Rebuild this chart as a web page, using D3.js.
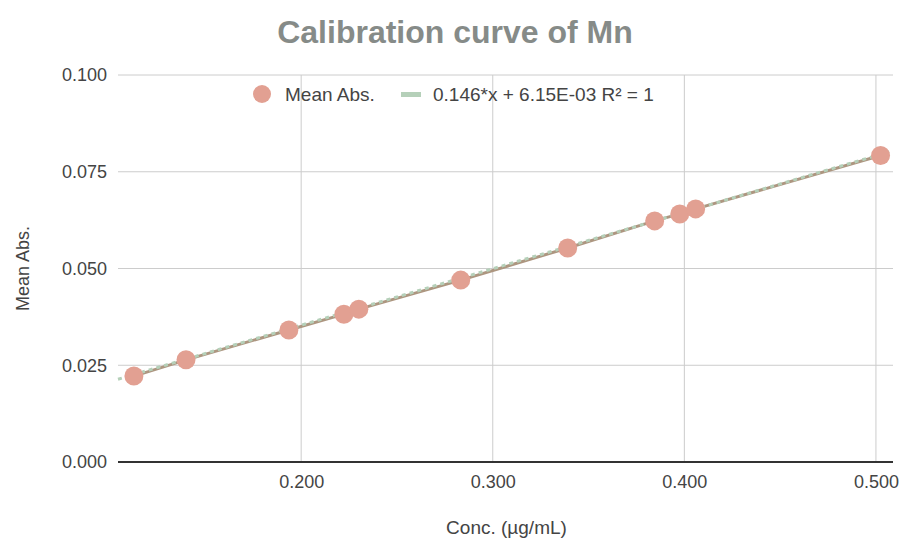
<!DOCTYPE html>
<html><head><meta charset="utf-8">
<script src="https://cdn.jsdelivr.net/npm/d3@7"></script>
<style>body{margin:0;background:#fff}svg{display:block;font-family:"Liberation Sans",Arial,sans-serif}</style>
</head><body><svg id="c" width="903" height="543"></svg>
<script>
const conc = [0.1127, 0.1399, 0.1936, 0.2223, 0.2301, 0.2833, 0.3391, 0.3845, 0.3976, 0.4059, 0.5024];
const meanAbs = [0.0222, 0.0264, 0.0341, 0.0382, 0.0395, 0.0470, 0.0553, 0.0623, 0.0641, 0.0654, 0.0792];
const xTicks = [0.2, 0.3, 0.4, 0.5];
const yTicks = [0, 0.025, 0.05, 0.075, 0.1];
const slope = 0.146, intercept = 6.15e-3;
const xDomain = [0.1044, 0.5089];

const svg = d3.select("#c");
const L = 118, R = 893, T = 75, B = 462;
const x = d3.scaleLinear().domain(xDomain).range([L, R]);
const y = d3.scaleLinear().domain([0, 0.1]).range([B, T]);

// grid
svg.append("g").selectAll("line").data(xTicks).join("line")
  .attr("x1", d => x(d)).attr("x2", d => x(d)).attr("y1", T).attr("y2", B)
  .attr("stroke", "#cccccc").attr("stroke-width", 1);
svg.append("g").selectAll("line").data(yTicks.filter(d => d > 0)).join("line")
  .attr("x1", L).attr("x2", R).attr("y1", d => y(d)).attr("y2", d => y(d))
  .attr("stroke", "#cccccc").attr("stroke-width", 1);

// axes (labels)
const yAxis = svg.append("g").attr("transform", `translate(${L},0)`)
  .call(d3.axisLeft(y).tickValues(yTicks).tickFormat(d3.format(".3f")).tickSize(0).tickPadding(11));
yAxis.select(".domain").remove();
yAxis.selectAll("text").attr("font-size", 18).attr("fill", "#444");
const xAxis = svg.append("g").attr("transform", `translate(0,${B})`)
  .call(d3.axisBottom(x).tickValues(xTicks).tickFormat(d3.format(".3f")).tickSize(0).tickPadding(13));
xAxis.select(".domain").remove();
xAxis.selectAll("text").attr("font-size", 18).attr("fill", "#444");

// baseline
svg.append("line").attr("x1", L).attr("x2", R).attr("y1", y(0)).attr("y2", y(0))
  .attr("stroke", "#333").attr("stroke-width", 2);

// data line
const pts = conc.map((c, i) => [c, meanAbs[i]]);
svg.append("path").datum(pts)
  .attr("d", d3.line().x(d => x(d[0])).y(d => y(d[1])))
  .attr("fill", "none").attr("stroke", "#ad9680").attr("stroke-width", 3);

// trendline
svg.append("path").datum(xDomain)
  .attr("d", d3.line().x(d => x(d)).y(d => y(slope * d + intercept)))
  .attr("fill", "none").attr("stroke", "#b5d0b9").attr("stroke-width", 3)
  .attr("stroke-dasharray", "4,4");

// points
svg.append("g").selectAll("circle").data(pts).join("circle")
  .attr("cx", d => x(d[0])).attr("cy", d => y(d[1])).attr("r", 9.5)
  .attr("fill", "#e2a092");

// title
svg.append("text").attr("x", 455).attr("y", 43).attr("text-anchor", "middle")
  .attr("font-size", 32).attr("font-weight", "bold").attr("fill", "#868b88")
  .text("Calibration curve of Mn");

// axis titles
svg.append("text").attr("x", (L + R) / 2 + 1).attr("y", 534).attr("text-anchor", "middle")
  .attr("font-size", 19).attr("fill", "#444").text("Conc. (µg/mL)");
svg.append("text").attr("transform", `translate(29,${(T + B) / 2}) rotate(-90)`)
  .attr("text-anchor", "middle").attr("font-size", 18).attr("fill", "#444").text("Mean Abs.");

// legend
svg.append("circle").attr("cx", 262).attr("cy", 94).attr("r", 9).attr("fill", "#e2a092");
svg.append("text").attr("x", 285).attr("y", 101).attr("font-size", 19).attr("fill", "#444").text("Mean Abs.");
svg.append("rect").attr("x", 401).attr("y", 92).attr("width", 20).attr("height", 5).attr("fill", "#b5d0b9");
svg.append("text").attr("x", 433).attr("y", 101).attr("font-size", 19).attr("fill", "#444").text("0.146*x + 6.15E-03 R² = 1");
</script></body></html>
